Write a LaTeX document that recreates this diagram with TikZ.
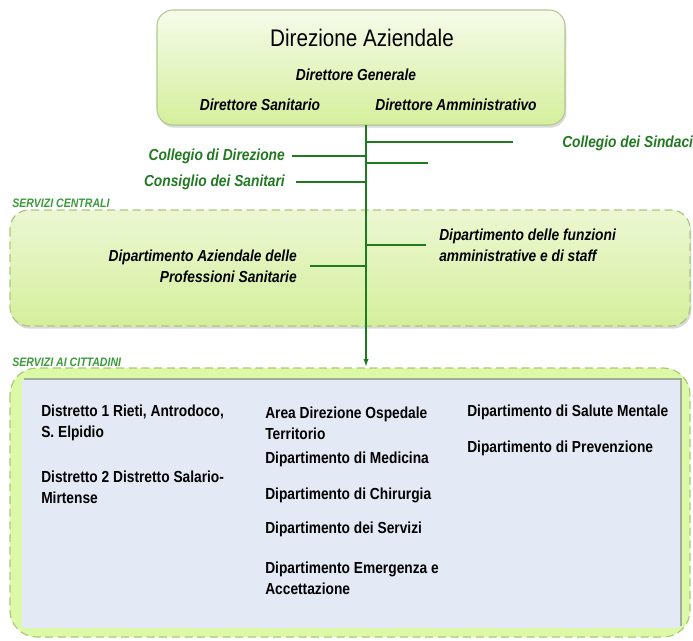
\documentclass[tikz,border=0pt]{standalone}
\usepackage{fontspec}
\setmainfont{Liberation Sans}[FakeStretch=0.86]
\usetikzlibrary{arrows.meta,positioning,shadows}
\definecolor{orgline}{HTML}{1E7B1E}
\definecolor{orggreen}{HTML}{217A21}
\definecolor{orglabel}{HTML}{3A9A3A}
\definecolor{boxtop}{HTML}{F5FBEA}
\definecolor{boxbottom}{HTML}{D5EF9C}
\definecolor{boxedge}{HTML}{B3C98E}
\definecolor{dashedge}{HTML}{A9C97A}
\definecolor{cittfill}{HTML}{DCF9A8}
\definecolor{innerfill}{HTML}{E4EAF5}
\definecolor{innershade}{HTML}{A3AE98}

\begin{document}
\begin{tikzpicture}[
  x=0.75pt, y=-0.75pt,
  every node/.style={inner sep=0pt},
  title/.style={font=\fontsize{18}{21}\selectfont},
  role/.style={font=\fontsize{12}{15.75}\selectfont\bfseries\itshape},
  organ/.style={role,text=orggreen},
  unit/.style={font=\fontsize{12}{15.75}\selectfont\bfseries,align=left,anchor=west},
  section/.style={font=\fontsize{9.2}{11}\selectfont\bfseries\itshape,text=orglabel,anchor=west},
  areabox/.style={dashedge,line width=0.9pt,dash pattern=on 6pt off 3.5pt},
  link/.style={orgline,line width=1.1pt},
  branch/.style={orgline,line width=0.8pt},
]
  \useasboundingbox (0,0) rectangle (693,640);

  % Direzione Aziendale
  \draw[boxedge,line width=0.8pt,rounded corners=12pt,top color=boxtop,bottom color=boxbottom,
        drop shadow={opacity=0.3,shadow xshift=1pt,shadow yshift=-2pt}]
    (157,10) rectangle (565,125);
  \node[title] (dir) at (362,38) {Direzione Aziendale};
  \node[role]  (dg)  at (356,75) {Direttore Generale};
  \node[role]  (ds)  at (260,105) {Direttore Sanitario};
  \node[role]  (da)  at (456,105) {Direttore Amministrativo};

  % Servizi centrali
  \draw[areabox,rounded corners=14pt,top color=boxtop!70!boxbottom,bottom color=boxbottom,
        drop shadow={opacity=0.3,shadow xshift=1pt,shadow yshift=-2pt}]
    (10,210) rectangle (690,326);
  \node[section] (centrali) at (12,203) {SERVIZI CENTRALI};

  % Servizi ai cittadini
  \draw[areabox,rounded corners=20pt,fill=cittfill] (10,368) rectangle (690,637);
  \fill[innershade] (24,378) rectangle (682,626);
  \fill[innerfill] (22,380) rectangle (680,628);
  \node[section] (cittadini) at (12,362) {SERVIZI AI CITTADINI};

  % main line
  \coordinate (trunk) at (366,125);
  \coordinate (trunkend) at (366,367);
  \draw[link,-{Latex[length=6pt,width=4pt]}] (trunk) -- (trunkend);

  % organi
  \node[organ,anchor=west] (sindaci) at (562,143) {Collegio dei Sindaci};
  \coordinate (sindend) at (513,142);
  \draw[branch] (trunk |- sindend) -- (sindend);

  \node[organ,anchor=east] (coldir) at (285,156) {Collegio di Direzione};
  \draw[branch,shorten <=5pt] (coldir) -- (coldir -| trunk);
  \coordinate (dirend) at (428,163);
  \draw[branch] (trunk |- dirend) -- (dirend);

  \node[organ,anchor=east] (consiglio) at (285,182) {Consiglio dei Sanitari};
  \draw[branch,shorten <=8pt] (consiglio) -- (consiglio -| trunk);

  % servizi centrali
  \node[role,align=right,anchor=east] (profsan) at (297,266)
    {Dipartimento Aziendale delle\\Professioni Sanitarie};
  \draw[branch,shorten <=10pt] (profsan) -- (profsan -| trunk);
  \node[role,align=left,anchor=west] (staff) at (439,245)
    {Dipartimento delle funzioni\\amministrative e di staff};
  \draw[branch,shorten <=10pt] (staff) -- (staff -| trunk);

  % servizi ai cittadini
  \node[unit] (d1)   at (41,423)  {Distretto 1 Rieti, Antrodoco,\\S. Elpidio};
  \node[unit] (d2)   at (41,487)  {Distretto 2 Distretto Salario-\\Mirtense};
  \node[unit] (ados) at (265,423) {Area Direzione Ospedale\\Territorio};
  \node[unit] (med)  at (265,459) {Dipartimento di Medicina};
  \node[unit] (chir) at (265,495) {Dipartimento di Chirurgia};
  \node[unit] (serv) at (265,529) {Dipartimento dei Servizi};
  \node[unit] (dea)  at (265,578) {Dipartimento Emergenza e\\Accettazione};
  \node[unit] (dsm)  at (467,412) {Dipartimento di Salute Mentale};
  \node[unit] (prev) at (467,448) {Dipartimento di Prevenzione};
\end{tikzpicture}
\end{document}
